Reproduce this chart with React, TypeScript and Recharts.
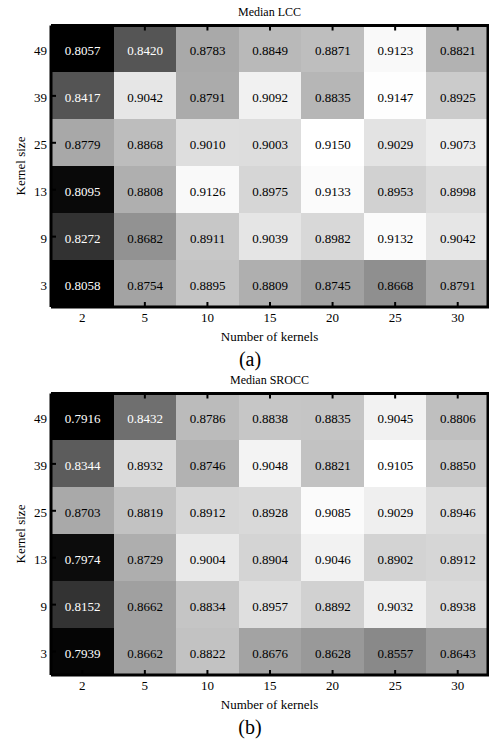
import React from 'react';
import { BarChart, Bar, XAxis, YAxis, Cell, LabelList } from 'recharts';

// Columns: number of kernels; rows: kernel size (bottom to top)
const numKernels = ['2', '5', '10', '15', '20', '25', '30'];
const kernelSizes = [3, 9, 13, 25, 39, 49];
const yTicks = [0.5, 1.5, 2.5, 3.5, 4.5, 5.5];

// Median LCC, one array per kernel size
const lcc3 = [0.8058, 0.8754, 0.8895, 0.8809, 0.8745, 0.8668, 0.8791];
const lcc9 = [0.8272, 0.8682, 0.8911, 0.9039, 0.8982, 0.9132, 0.9042];
const lcc13 = [0.8095, 0.8808, 0.9126, 0.8975, 0.9133, 0.8953, 0.8998];
const lcc25 = [0.8779, 0.8868, 0.9010, 0.9003, 0.9150, 0.9029, 0.9073];
const lcc39 = [0.8417, 0.9042, 0.8791, 0.9092, 0.8835, 0.9147, 0.8925];
const lcc49 = [0.8057, 0.8420, 0.8783, 0.8849, 0.8871, 0.9123, 0.8821];

// Median SROCC, one array per kernel size
const srocc3 = [0.7939, 0.8662, 0.8822, 0.8676, 0.8628, 0.8557, 0.8643];
const srocc9 = [0.8152, 0.8662, 0.8834, 0.8957, 0.8892, 0.9032, 0.8938];
const srocc13 = [0.7974, 0.8729, 0.9004, 0.8904, 0.9046, 0.8902, 0.8912];
const srocc25 = [0.8703, 0.8819, 0.8912, 0.8928, 0.9085, 0.9029, 0.8946];
const srocc39 = [0.8344, 0.8932, 0.8746, 0.9048, 0.8821, 0.9105, 0.8850];
const srocc49 = [0.7916, 0.8432, 0.8786, 0.8838, 0.8835, 0.9045, 0.8806];

const lccRows = [lcc3, lcc9, lcc13, lcc25, lcc39, lcc49];
const sroccRows = [srocc3, srocc9, srocc13, srocc25, srocc39, srocc49];

const FONT = 'Liberation Serif, Times New Roman, serif';
const txt = (size: number) => ({ fontFamily: FONT, fontSize: size });

function gray(t: number) {
  const g = Math.round(Math.max(0, Math.min(1, t)) * 255);
  return `rgb(${g},${g},${g})`;
}

const BottomTick = (props: any) => {
  const { x, y, payload } = props;
  return (
    <g>
      <line x1={x} x2={x} y1={y - 7} y2={y - 11} stroke="#000" strokeWidth={2} />
      <text x={x} y={y} dy="0.71em" textAnchor="middle" style={txt(13)} fill="#000">
        {payload.value}
      </text>
    </g>
  );
};

const TopTick = (props: any) => {
  const { x, y } = props;
  return <line x1={x} x2={x} y1={y} y2={y + 5} stroke="#000" strokeWidth={2} />;
};

const LeftTick = (props: any) => {
  const { x, y, payload } = props;
  const label = kernelSizes[Math.floor(payload.value)];
  return (
    <g>
      <line x1={x + 4} x2={x + 9} y1={y} y2={y} stroke="#000" strokeWidth={2} />
      <text x={x} y={y} dy="0.5em" textAnchor="end" style={txt(13)} fill="#000">
        {label}
      </text>
    </g>
  );
};

const RightTick = (props: any) => {
  const { x, y } = props;
  return <line x1={x} x2={x - 5} y1={y} y2={y} stroke="#000" strokeWidth={2} />;
};

function Panel({ title, tag, rows }: { title: string; tag: string; rows: number[][] }) {
  const all = rows.flat();
  const min = Math.min(...all);
  const max = Math.max(...all);
  const norm = (v: number) => (v - min) / (max - min);

  const data = numKernels.map((k, i) => {
    const row: any = { k };
    kernelSizes.forEach((s, j) => {
      row['c' + s] = 1;
      row['v' + s] = rows[j][i];
    });
    return row;
  });

  const renderValue = (p: any) => {
    const vb = p.viewBox || p;
    const x = Number(vb.x ?? p.x);
    const y = Number(vb.y ?? p.y);
    const w = Number(vb.width ?? p.width);
    const h = Number(vb.height ?? p.height);
    const v = Number(p.value);
    return (
      <text
        x={x + w / 2}
        y={y + h / 2}
        dy="0.5em"
        textAnchor="middle"
        style={txt(13)}
        fill={norm(v) < 0.5 ? '#fff' : '#000'}
      >
        {v.toFixed(4)}
      </text>
    );
  };

  const axisLine = { stroke: '#000', strokeWidth: 3 };

  return (
    <div style={{ position: 'relative', width: 489, height: 368 }}>
      <BarChart
        width={490}
        height={368}
        data={data}
        margin={{ top: 24.5, right: 0, left: 0, bottom: 0 }}
        barCategoryGap={0}
        barGap={0}
      >
        {kernelSizes.map((s, j) => (
          <Bar
            key={s}
            dataKey={'c' + s}
            stackId="a"
            xAxisId="bottom"
            yAxisId="left"
            isAnimationActive={false}
          >
            {data.map((d, i) => (
              <Cell key={i} fill={gray(norm(rows[j][i]))} />
            ))}
            <LabelList dataKey={'v' + s} content={renderValue} />
          </Bar>
        ))}
        <XAxis
          xAxisId="bottom"
          dataKey="k"
          type="category"
          height={61}
          interval={0}
          tickSize={0}
          tickMargin={6}
          tickLine={false}
          axisLine={axisLine}
          tick={<BottomTick />}
        />
        <XAxis
          xAxisId="top"
          orientation="top"
          dataKey="k"
          type="category"
          height={1}
          interval={0}
          tickSize={0}
          tickMargin={0}
          tickLine={false}
          axisLine={axisLine}
          tick={<TopTick />}
        />
        <YAxis
          yAxisId="left"
          type="number"
          domain={[0, 6]}
          ticks={yTicks}
          width={51}
          interval={0}
          tickSize={0}
          tickMargin={4}
          tickLine={false}
          axisLine={axisLine}
          tick={<LeftTick />}
        />
        <YAxis
          yAxisId="right"
          orientation="right"
          type="number"
          domain={[0, 6]}
          ticks={yTicks}
          width={1}
          interval={0}
          tickSize={0}
          tickMargin={0}
          tickLine={false}
          axisLine={{ stroke: '#000', strokeWidth: 5 }}
          tick={<RightTick />}
        />
      </BarChart>
      <svg
        width={489}
        height={380}
        style={{ position: 'absolute', left: 0, top: 0, pointerEvents: 'none', overflow: 'visible' }}
      >
        <text x={269.5} y={16} textAnchor="middle" style={txt(12)} fill="#000">
          {title}
        </text>
        <text
          x={25}
          y={166}
          transform="rotate(-90 25 166)"
          textAnchor="middle"
          style={txt(13)}
          fill="#000"
        >
          Kernel size
        </text>
        <text x={269.5} y={341} textAnchor="middle" style={txt(13)} fill="#000">
          Number of kernels
        </text>
        <text x={250} y={366} textAnchor="middle" style={txt(20)} fill="#000">
          {tag}
        </text>
      </svg>
    </div>
  );
}

export default function App() {
  return (
    <div
      style={{
        position: 'absolute',
        left: 0,
        top: 0,
        width: 489,
        height: 739,
        overflow: 'hidden',
        background: '#fff',
      }}
    >
      <style>{`.recharts-bar-rectangle path{shape-rendering:crispEdges}`}</style>
      <Panel title="Median LCC" tag="(a)" rows={lccRows} />
      <Panel title="Median SROCC" tag="(b)" rows={sroccRows} />
    </div>
  );
}
